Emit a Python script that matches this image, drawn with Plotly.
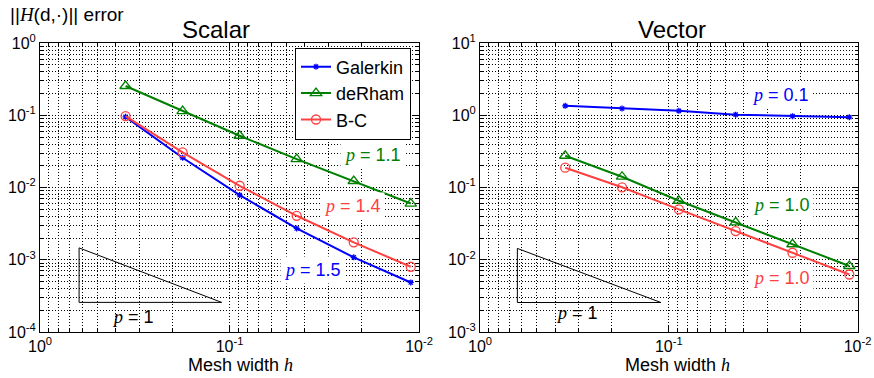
import plotly.graph_objects as go

# Mesh widths
h = [0.3536, 0.1768, 0.0884, 0.0442, 0.0221, 0.01105]

# Scalar errors
scalar_galerkin = [0.095, 0.0258, 0.00785, 0.00271, 0.00108, 0.000485]
scalar_derham = [0.254, 0.114, 0.052, 0.0247, 0.0123, 0.006]
scalar_bc = [0.0975, 0.0306, 0.01057, 0.00406, 0.00174, 0.0008]

# Vector errors
vector_galerkin = [1.35, 1.24, 1.15, 1.02, 0.97, 0.94]
vector_derham = [0.275, 0.141, 0.0656, 0.0329, 0.0164, 0.0082]
vector_bc = [0.188, 0.1007, 0.0499, 0.0249, 0.0125, 0.00625]

# Slope triangles (p = 1)
tri_scalar_x = [0.622, 0.622, 0.11, 0.622]
tri_scalar_y = [0.00146, 0.000257, 0.000257, 0.00146]
tri_vector_x = [0.634, 0.634, 0.11, 0.634]
tri_vector_y = [0.01435, 0.00256, 0.00256, 0.01435]

series_names = ["Galerkin", "deRham", "B-C"]
x_tick_vals = [1, 0.1, 0.01]
x_tick_text = ["10<sup>0</sup>", "10<sup>-1</sup>", "10<sup>-2</sup>"]
ys_tick_vals = [1, 0.1, 0.01, 0.001, 0.0001]
ys_tick_text = ["10<sup>0</sup>", "10<sup>-1</sup>", "10<sup>-2</sup>", "10<sup>-3</sup>", "10<sup>-4</sup>"]
yv_tick_vals = [10, 1, 0.1, 0.01, 0.001]
yv_tick_text = ["10<sup>1</sup>", "10<sup>0</sup>", "10<sup>-1</sup>", "10<sup>-2</sup>", "10<sup>-3</sup>"]

BLUE = "#0000ff"
GREEN = "#008000"
RED = "#ff4040"
FONT = "Liberation Sans, Arial, sans-serif"
SERIF_I = lambda s: '<i><span style="font-family:Liberation Serif">' + s + '</span></i>'

W = 874
H = 378


def px(x):
    return x / W


def py(y):
    return 1 - y / H


def minor_vals(lo, hi):
    out = []
    for e in range(lo, hi):
        for m in range(2, 10):
            out.append(m * 10 ** e)
    return out


fig = go.Figure()

styles = [
    dict(color=BLUE, symbol="asterisk-open", size=5),
    dict(color=GREEN, symbol="triangle-up-open", size=10),
    dict(color=RED, symbol="circle-open", size=9),
]

for name, ys, st in zip(series_names, [scalar_galerkin, scalar_derham, scalar_bc], styles):
    fig.add_trace(go.Scatter(
        x=h, y=ys, name=name, mode="lines+markers",
        line=dict(color=st["color"], width=2),
        marker=dict(symbol=st["symbol"], size=st["size"], color=st["color"],
                    line=dict(color=st["color"], width=1.3)),
        xaxis="x", yaxis="y", showlegend=True))

for name, ys, st in zip(series_names, [vector_galerkin, vector_derham, vector_bc], styles):
    fig.add_trace(go.Scatter(
        x=h, y=ys, name=name, mode="lines+markers",
        line=dict(color=st["color"], width=2),
        marker=dict(symbol=st["symbol"], size=st["size"], color=st["color"],
                    line=dict(color=st["color"], width=1.3)),
        xaxis="x2", yaxis="y2", showlegend=False))

fig.add_trace(go.Scatter(x=tri_scalar_x, y=tri_scalar_y, mode="lines",
                         line=dict(color="black", width=1), xaxis="x", yaxis="y",
                         showlegend=False, hoverinfo="skip"))
fig.add_trace(go.Scatter(x=tri_vector_x, y=tri_vector_y, mode="lines",
                         line=dict(color="black", width=1), xaxis="x2", yaxis="y2",
                         showlegend=False, hoverinfo="skip"))

grid = dict(showgrid=True, gridcolor="black", gridwidth=0.9, griddash="1px,2px")
common = dict(type="log", showline=True, linecolor="black", linewidth=1, mirror="ticks",
              ticks="inside", ticklen=6, tickcolor="black", zeroline=False, automargin=False,
              tickfont=dict(family=FONT, size=16, color="black"), **grid)

xmin = minor_vals(-2, 0)
fig.update_layout(
    width=W, height=H,
    margin=dict(l=0, r=0, t=0, b=0, autoexpand=False),
    paper_bgcolor="white", plot_bgcolor="white",
    font=dict(family=FONT, color="black"),
    xaxis=dict(domain=[px(40), px(419)], range=[0, -2], tickmode="array",
               tickvals=x_tick_vals, ticktext=x_tick_text, anchor="y",
               minor=dict(tickmode="array", tickvals=xmin, ticks="inside", ticklen=3,
                          tickcolor="black", **grid), **common),
    yaxis=dict(domain=[py(332), py(43)], range=[-4, 0], tickmode="array",
               tickvals=ys_tick_vals, ticktext=ys_tick_text, anchor="x",
               minor=dict(tickmode="array", tickvals=minor_vals(-4, 0), ticks="inside",
                          ticklen=3, tickcolor="black", **grid), **common),
    xaxis2=dict(domain=[px(480), px(857.5)], range=[0, -2], tickmode="array",
                tickvals=x_tick_vals, ticktext=x_tick_text, anchor="y2",
                minor=dict(tickmode="array", tickvals=xmin, ticks="inside", ticklen=3,
                           tickcolor="black", **grid), **common),
    yaxis2=dict(domain=[py(332), py(43)], range=[-3, 1], tickmode="array",
                tickvals=yv_tick_vals, ticktext=yv_tick_text, anchor="x2",
                minor=dict(tickmode="array", tickvals=minor_vals(-3, 1), ticks="inside",
                           ticklen=3, tickcolor="black", **grid), **common),
    legend=dict(x=px(295), y=py(47.5), xanchor="left", yanchor="top",
                bgcolor="white", bordercolor="black", borderwidth=1,
                font=dict(family=FONT, size=18, color="black"),
                tracegroupgap=0, itemwidth=30),
)


def ann(text, xc, yc, color="black", size=18, bg=None, xanchor="center"):
    d = dict(text=text, x=px(xc), y=py(yc), xref="paper", yref="paper",
             xanchor=xanchor, yanchor="middle", showarrow=False,
             font=dict(family=FONT, size=size, color=color))
    if bg:
        d.update(bgcolor=bg, borderpad=3)
    fig.add_annotation(**d)


P = SERIF_I("p")
ann("||" + SERIF_I("H") + "(d,·)|| error", 8, 15, size=19, xanchor="left")
ann("Scalar", 216, 29, size=24)
ann("Vector", 672, 29, size=24)
ann("Mesh width " + SERIF_I("h"), 240, 365, size=18)
ann("Mesh width " + SERIF_I("h"), 677, 365, size=18)

ann(P + " = 1.1", 372, 155, color=GREEN, bg="white")
ann(P + " = 1.4", 352, 206, color=RED, bg="white")
ann(P + " = 1.5", 312, 270, color=BLUE, bg="white")
ann(P + " = 1", 133, 317, color="black")

ann(P + " = 0.1", 780, 95, color=BLUE, bg="white")
ann(P + " = 1.0", 781, 205, color=GREEN, bg="white")
ann(P + " = 1.0", 781, 278, color=RED, bg="white")
ann(P + " = 1", 577, 313, color="black")

fig.write_html("out.html", config={"displayModeBar": False},
               post_script="document.body.style.margin='0';document.body.style.overflow='hidden';")
